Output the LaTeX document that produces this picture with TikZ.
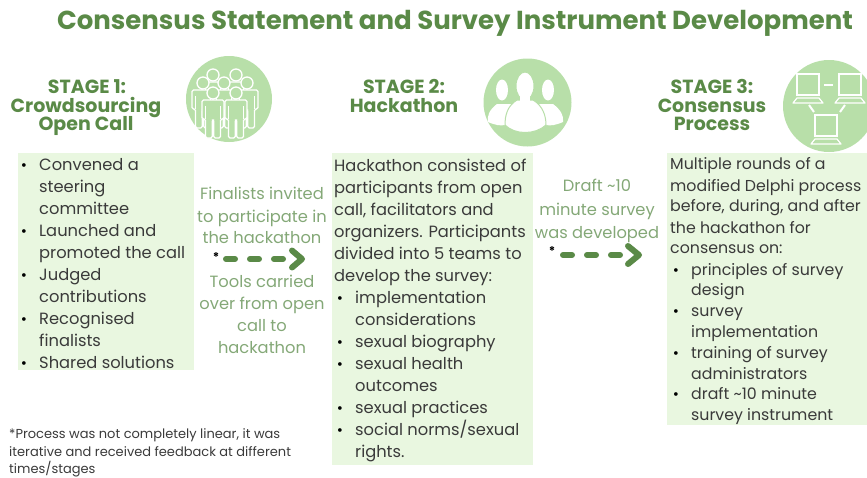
\documentclass[tikz,border=0pt]{standalone}
\usepackage{fontspec}
\setmainfont{Poppins}
\usetikzlibrary{arrows.meta}
\definecolor{titlegreen}{HTML}{5A8A47}
\definecolor{softgreen}{HTML}{84A877}
\definecolor{panelgreen}{HTML}{E9F7E0}
\definecolor{circlegreen}{HTML}{B8DFA9}
\definecolor{bodygray}{HTML}{3A3A3A}
\tikzset{
  panel/.style={fill=panelgreen,draw=none,inner sep=0pt,anchor=north west},
  titletext/.style={text=titlegreen,font=\fontsize{26}{30}\selectfont\bfseries,anchor=base,inner sep=0pt},
  stagetext/.style={text=titlegreen,font=\fontsize{19}{22}\selectfont\bfseries,anchor=base,inner sep=0pt},
  body/.style={text=bodygray,font=\fontsize{16.3}{18}\selectfont,anchor=base west,inner sep=0pt},
  bodyc/.style={text=bodygray,font=\fontsize{15.8}{18}\selectfont,anchor=base west,inner sep=0pt},
  bulletmark/.style={text=black,font=\fontsize{15}{18}\selectfont,anchor=base,inner sep=0pt},
  flowtext/.style={text=softgreen,font=\fontsize{16.3}{18}\selectfont,anchor=base,inner sep=0pt},
  noteline/.style={text=bodygray,font=\fontsize{13}{14}\selectfont,anchor=base west,inner sep=0pt},
  starmark/.style={text=black,font=\fontsize{12}{13}\selectfont\bfseries,anchor=center,inner sep=0pt},
  flowarrow/.style={draw=titlegreen,line width=6pt,line cap=round,dash pattern=on 9pt off 15pt},
  flowhead/.style={draw=titlegreen,line width=6pt,line cap=round,line join=round},
  iconline/.style={draw=white,line width=1.3pt,line join=round,rounded corners=1.5pt},
  iconfill/.style={fill=white,draw=none},
  disc/.style={circle,fill=circlegreen,draw=none,inner sep=0pt,minimum size=88pt}
}
\newcommand{\crowdperson}[2]{%
  \begin{scope}[shift={(#1,#2)}]
    \path[iconline,fill=circlegreen] (-11,7) -- (11,7) -- (11,26) -- (7.5,26) -- (7.5,45) -- (0.8,45) -- (0.8,27) -- (-0.8,27) -- (-0.8,45) -- (-7.5,45) -- (-7.5,26) -- (-11,26) -- cycle;
    \path[iconline] (-7.5,13) -- (-7.5,26) (7.5,13) -- (7.5,26);
    \path[iconline,fill=circlegreen] (0,0) circle[radius=6];
  \end{scope}}
\newcommand{\laptop}[2]{%
  \begin{scope}[shift={(#1,#2)}]
    \path[draw=white,line width=1.4pt] (0,0) rectangle (22,21);
    \path[draw=white,line width=1.2pt,line join=round] (0,24) -- (22,24) -- (26,29) -- (-4,29) -- cycle;
  \end{scope}}
\begin{document}
\begin{tikzpicture}[x=1pt,y=-1pt]
\useasboundingbox (0,0) rectangle (867,477);
\begin{scope}
\clip (0,0) rectangle (867,477);
\node[panel,minimum width=176pt,minimum height=217pt] (panelA) at (18,153) {};
\node[panel,minimum width=201pt,minimum height=312pt] (panelB) at (332,153) {};
\node[panel,minimum width=200pt,minimum height=272pt] (panelC) at (667,153) {};
\node[titletext] (title) at (455,29) {Consensus Statement and Survey Instrument Development};
\node[stagetext] (s1a) at (87,93) {STAGE 1:};
\node[stagetext] (s1b) at (86,112) {Crowdsourcing};
\node[stagetext] (s1c) at (86,130) {Open Call};
\node[stagetext] (s2a) at (404,93) {STAGE 2:};
\node[stagetext] (s2b) at (404,112) {Hackathon};
\node[stagetext] (s3a) at (712,93) {STAGE 3:};
\node[stagetext] (s3b) at (712,112) {Consensus};
\node[stagetext] (s3c) at (712,130) {Process};
\node[disc,minimum size=86pt] (discA) at (229,99) {};
\crowdperson{213}{75}\crowdperson{236}{75}
\crowdperson{203}{83}\crowdperson{247}{83}\crowdperson{224}{83}
\crowdperson{213}{93}\crowdperson{236}{93}
\node[disc] (discB) at (527.5,102.5) {};
\fill[iconfill] (502,90) ellipse[x radius=6,y radius=10.5];
\fill[iconfill] (548,90) ellipse[x radius=6,y radius=10.5];
\fill[iconfill] (497,104) .. controls (489,110) and (487,116) .. (488,122) .. controls (495,125) and (500,126) .. (505,125) .. controls (506,115) and (509,109) .. (513,104) -- cycle;
\fill[iconfill] (553,104) .. controls (561,110) and (564,116) .. (563,122) .. controls (556,125) and (551,126) .. (546,125) .. controls (545,115) and (541,109) .. (537,104) -- cycle;
\draw[fill=white,draw=circlegreen,line width=1pt] (517,100) .. controls (507,106) and (505,116) .. (505,125) .. controls (515,135) and (535,135) .. (546,125) .. controls (546,116) and (543,106) .. (533,100) -- cycle;
\draw[fill=white,draw=circlegreen,line width=1pt] (525,86) ellipse[x radius=9,y radius=14];
\fill[white] (520,95) rectangle (530,104);
\node[disc,minimum size=92pt] (discC) at (829,106) {};
\laptop{797}{74}\laptop{839}{74}\laptop{815}{115}
\coordinate (la) at (824,85); \coordinate (lb) at (833,85);
\coordinate (lc) at (809,105); \coordinate (ld) at (814,112);
\coordinate (le) at (845,105); \coordinate (lf) at (840,112);
\draw[white,line width=2pt] (la) -- (lb);
\draw[white,line width=2pt] (lc) -- (ld);
\draw[white,line width=2pt] (le) -- (lf);
\end{scope}
\node[bulletmark] (a0) at (24,170) {•};
\node[body] (a1) at (39,170) {Convened a};
\node[body] (a2) at (39,192) {steering};
\node[body] (a3) at (39,214) {committee};
\node[bulletmark] (a4) at (24,236) {•};
\node[body] (a5) at (39,236) {Launched and};
\node[body] (a6) at (39,258) {promoted the call};
\node[bulletmark] (a7) at (24,280) {•};
\node[body] (a8) at (39,280) {Judged};
\node[body] (a9) at (39,302) {contributions};
\node[bulletmark] (a10) at (24,324) {•};
\node[body] (a11) at (39,324) {Recognised};
\node[body] (a12) at (39,346) {finalists};
\node[bulletmark] (a13) at (24,368) {•};
\node[body] (a14) at (39,368) {Shared solutions};
\node[body] (b1) at (334,171) {Hackathon consisted of};
\node[body] (b2) at (334,193) {participants from open};
\node[body] (b3) at (334,215) {call, facilitators and};
\node[body] (b4) at (334,237) {organizers. Participants};
\node[body] (b5) at (334,259) {divided into 5 teams to};
\node[body] (b6) at (334,281) {develop the survey:};
\node[bulletmark] (b7) at (340,303) {•};
\node[body] (b8) at (355,303) {implementation};
\node[body] (b9) at (355,325) {considerations};
\node[bulletmark] (b10) at (340,347) {•};
\node[body] (b11) at (355,347) {sexual biography};
\node[bulletmark] (b12) at (340,369) {•};
\node[body] (b13) at (355,369) {sexual health};
\node[body] (b14) at (355,391) {outcomes};
\node[bulletmark] (b15) at (340,413) {•};
\node[body] (b16) at (355,413) {sexual practices};
\node[bulletmark] (b17) at (340,435) {•};
\node[body] (b18) at (355,435) {social norms/sexual};
\node[body] (b19) at (355,457) {rights.};
\node[bodyc] (c1) at (670,169) {Multiple rounds of a};
\node[bodyc] (c2) at (670,191) {modified Delphi process};
\node[bodyc] (c3) at (670,211) {before, during, and after};
\node[bodyc] (c4) at (670,233) {the hackathon for};
\node[bodyc] (c5) at (670,253) {consensus on:};
\node[bulletmark] (c6) at (676,275) {•};
\node[bodyc] (c7) at (691,275) {principles of survey};
\node[bodyc] (c8) at (691,295) {design};
\node[bulletmark] (c9) at (676,316) {•};
\node[bodyc] (c10) at (691,316) {survey};
\node[bodyc] (c11) at (691,337) {implementation};
\node[bulletmark] (c12) at (676,358) {•};
\node[bodyc] (c13) at (691,358) {training of survey};
\node[bodyc] (c14) at (691,379) {administrators};
\node[bulletmark] (c15) at (676,399) {•};
\node[bodyc] (c16) at (691,399) {draft \textasciitilde10 minute};
\node[bodyc] (c17) at (691,420) {survey instrument};
\node[flowtext] (f1) at (262,199) {Finalists invited};
\node[flowtext] (f2) at (262,222) {to participate in};
\node[flowtext] (f3) at (262,243) {the hackathon};
\node[starmark] (st1) at (216,257) {*};
\coordinate (arA) at (226,259); \coordinate (arM) at (283,259); \coordinate (arB) at (302,259);
\draw[flowarrow] (arA) -- (arM);
\draw[flowhead] ([shift={(-10,-8.5)}]arB) -- (arB) -- ([shift={(-10,8.5)}]arB);
\node[flowtext] (f4) at (262,287) {Tools carried};
\node[flowtext] (f5) at (262,309) {over from open};
\node[flowtext] (f6) at (262,331) {call to};
\node[flowtext] (f7) at (262,353) {hackathon};
\node[flowtext] (g1) at (597,191) {Draft \textasciitilde10};
\node[flowtext] (g2) at (597,215) {minute survey};
\node[flowtext] (g3) at (597,238) {was developed};
\node[starmark] (st2) at (552,251) {*};
\coordinate (arC) at (563,255); \coordinate (arN) at (620,255); \coordinate (arD) at (639,255);
\draw[flowarrow] (arC) -- (arN);
\draw[flowhead] ([shift={(-11,-9)}]arD) -- (arD) -- ([shift={(-11,9)}]arD);
\node[noteline] (n1) at (9,438) {*Process was not completely linear, it was};
\node[noteline] (n2) at (9,456) {iterative and received feedback at different};
\node[noteline] (n3) at (9,473) {times/stages};
\end{tikzpicture}
\end{document}
